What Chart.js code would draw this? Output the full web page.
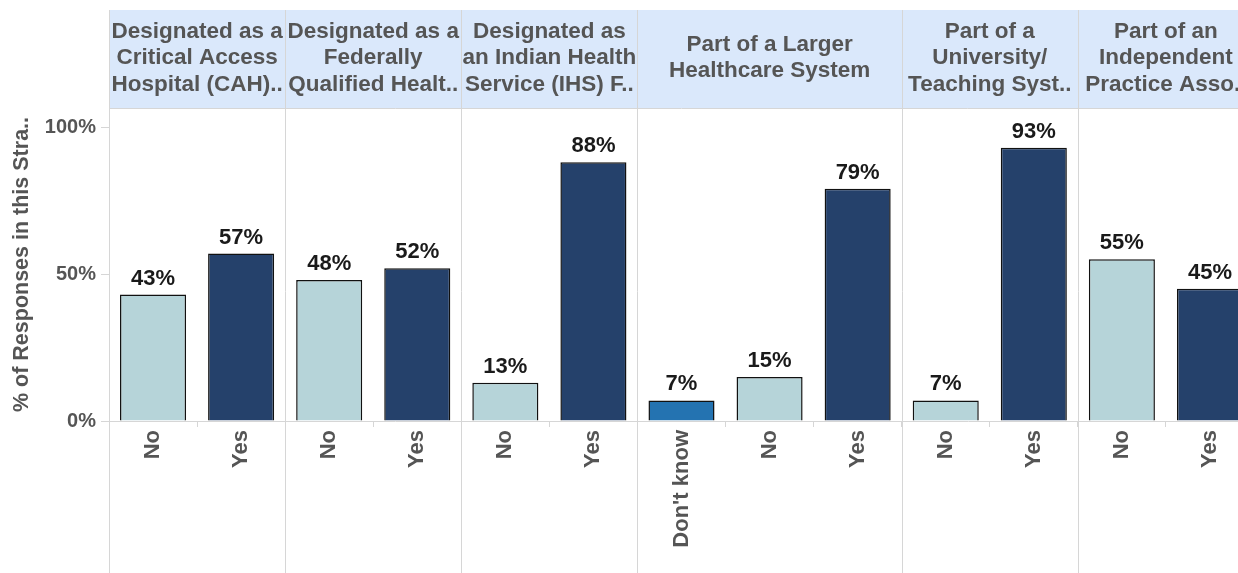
<!DOCTYPE html>
<html lang="en">
<head>
    <meta charset="UTF-8">
    <title>Responses by Stratum</title>
    <style>
        body {
            margin: 0;
            padding: 0;
            overflow: hidden;
            background-color: white;
        }

        #chartContainer {
            position: absolute;
            left: 0;
            top: 0;
        }
    </style>
</head>
<body>
    <canvas id="chartContainer" width="1254" height="573"></canvas>

    <script src="https://cdn.jsdelivr.net/npm/chart.js"></script>
    <script>
        // Panel headers (one entry per group, lines as shown in the header band)
        const groupHeaders = [
            ['Designated as a', 'Critical Access', 'Hospital (CAH)..'],
            ['Designated as a', 'Federally', 'Qualified Healt..'],
            ['Designated as', 'an Indian Health', 'Service (IHS) F..'],
            ['Part of a Larger', 'Healthcare System'],
            ['Part of a', 'University/', 'Teaching Syst..'],
            ['Part of an', 'Independent', 'Practice Asso..']
        ];
        // How many answers sit under each header
        const groupSizes = [2, 2, 2, 3, 2, 2];
        const answers = ['No', 'Yes', 'No', 'Yes', 'No', 'Yes', "Don't know", 'No', 'Yes', 'No', 'Yes', 'No', 'Yes'];
        const percents = [43, 57, 48, 52, 13, 88, 7, 15, 79, 7, 93, 55, 45];
        const yTicks = [0, 50, 100];

        const answerColors = {
            'No': '#b6d4d9',
            'Yes': '#25416b',
            "Don't know": '#2473b1'
        };

        const fontFamily = 'Arial, "Liberation Sans", sans-serif';
        const textGray = '#555555';
        const lineGray = '#d6d6d6';
        const headerTop = 10;
        const headerBottom = 108;

        // header band, panel separators and bar value labels
        const panelPlugin = {
            id: 'panels',
            beforeDraw(chart) {
                const ctx = chart.ctx;
                const area = chart.chartArea;
                ctx.save();
                ctx.fillStyle = 'white';
                ctx.fillRect(0, 0, chart.width, chart.height);
                ctx.fillStyle = '#dae8fb';
                ctx.fillRect(area.left, headerTop, chart.width - area.left, headerBottom - headerTop);
                ctx.restore();
            },
            afterDraw(chart) {
                const ctx = chart.ctx;
                const x = chart.scales.x;
                const area = chart.chartArea;
                const slot = x.getPixelForValue(1) - x.getPixelForValue(0);

                ctx.save();
                ctx.strokeStyle = lineGray;
                ctx.lineWidth = 1;

                // header bottom line
                ctx.beginPath();
                ctx.moveTo(area.left, headerBottom + 0.5);
                ctx.lineTo(chart.width, headerBottom + 0.5);
                ctx.stroke();

                let start = 0;
                groupSizes.forEach((size, g) => {
                    const left = x.getPixelForValue(start) - slot / 2;
                    const right = x.getPixelForValue(start + size - 1) + slot / 2;
                    const px = Math.round(left) + 0.5;

                    ctx.beginPath();
                    ctx.moveTo(px, headerTop);
                    ctx.lineTo(px, chart.height);
                    ctx.stroke();

                    const lines = groupHeaders[g];
                    const center = (left + right) / 2;
                    const lineHeight = 26.5;
                    const firstY = 58 - (lines.length - 1) * lineHeight / 2;
                    ctx.fillStyle = textGray;
                    ctx.font = 'bold 22.5px ' + fontFamily;
                    ctx.textAlign = 'center';
                    ctx.textBaseline = 'middle';
                    lines.forEach((line, i) => {
                        ctx.fillText(line, center, firstY + i * lineHeight);
                    });

                    start += size;
                });

                // value labels above bars
                const meta = chart.getDatasetMeta(0);
                ctx.fillStyle = '#1a1a1a';
                ctx.font = 'bold 22px ' + fontFamily;
                ctx.textAlign = 'center';
                ctx.textBaseline = 'bottom';
                meta.data.forEach((bar, i) => {
                    ctx.fillText(percents[i] + '%', bar.x, bar.y - 5);
                });
                ctx.restore();
            }
        };

        const ctx = document.getElementById('chartContainer').getContext('2d');
        const chart = new Chart(ctx, {
            type: 'bar',
            data: {
                labels: answers,
                datasets: [
                    {
                        label: '% of Responses',
                        data: percents,
                        backgroundColor: answers.map(a => answerColors[a]),
                        borderColor: '#111111',
                        borderWidth: 1.5,
                        categoryPercentage: 1,
                        barPercentage: 0.75
                    }
                ]
            },
            options: {
                responsive: false,
                animation: false,
                layout: {
                    padding: { top: headerBottom, left: 0, right: 0, bottom: 0 }
                },
                plugins: {
                    legend: { display: false },
                    tooltip: { enabled: false }
                },
                scales: {
                    x: {
                        offset: true,
                        grid: {
                            offset: true,
                            drawOnChartArea: false,
                            tickLength: 6,
                            color: lineGray
                        },
                        border: { color: lineGray },
                        ticks: {
                            autoSkip: false,
                            minRotation: 90,
                            maxRotation: 90,
                            padding: 3,
                            color: textGray,
                            font: { family: fontFamily, size: 22, weight: 'bold' }
                        },
                        afterFit(scale) {
                            scale.height = 573 - 421;
                        }
                    },
                    y: {
                        min: 0,
                        max: 106.5,
                        afterBuildTicks(scale) {
                            scale.ticks = yTicks.map(v => ({ value: v }));
                        },
                        grid: {
                            drawOnChartArea: false,
                            tickLength: 8,
                            color: lineGray
                        },
                        border: { color: lineGray },
                        ticks: {
                            padding: 5,
                            color: textGray,
                            font: { family: fontFamily, size: 20, weight: 'bold' },
                            callback: value => value + '%'
                        },
                        title: {
                            display: true,
                            text: '% of Responses in this Stra..',
                            color: textGray,
                            padding: { top: 9, bottom: 0 },
                            font: { family: fontFamily, size: 21.5, weight: 'bold' }
                        },
                        afterFit(scale) {
                            scale.width = 109;
                        }
                    }
                }
            },
            plugins: [panelPlugin]
        });
    </script>
</body>
</html>
